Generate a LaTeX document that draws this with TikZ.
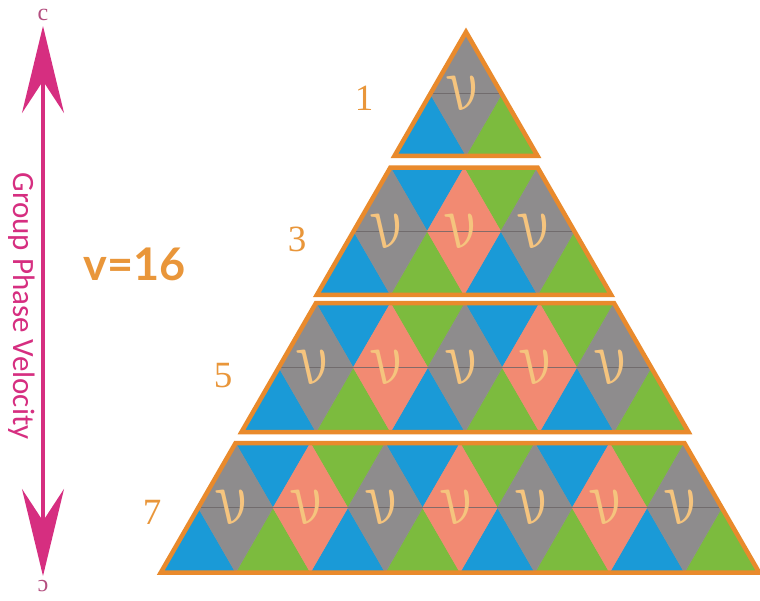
\documentclass[tikz,border=0pt]{standalone}
\usepackage{fontspec}
\setmainfont{Liberation Serif}
\newfontfamily\labsans{Lato}
\newfontfamily\calib{Carlito}
\usetikzlibrary{arrows.meta}
\definecolor{tblue}{HTML}{1A9AD7}
\definecolor{tgreen}{HTML}{7CBB3E}
\definecolor{tgray}{HTML}{8E8C8D}
\definecolor{tsalmon}{HTML}{F28A72}
\definecolor{torange}{HTML}{E98A2C}
\definecolor{tnum}{HTML}{E9963A}
\definecolor{tnu}{HTML}{F5C47E}
\definecolor{tmag}{HTML}{D62E80}
\definecolor{tmid}{HTML}{6A6466}
\tikzset{
  tri/.style={line width=0.4pt},
  midline/.style={draw=tmid, line width=1pt, opacity=0.8},
  outl/.style={draw=torange, line width=4.5pt, line join=miter},
  vnu/.style={text=tnu, inner sep=0pt, transform shape},
  numlab/.style={text=tnum, font=\fontsize{37}{40}\selectfont, anchor=base, inner sep=0pt},
  clab/.style={text=tmag!60!gray, font=\fontsize{24}{26}\selectfont, inner sep=0pt},
  magarrow/.style={draw=tmag, line width=4pt,
    {Stealth[length=87pt,width=42pt,inset=32pt]}-{Stealth[length=87pt,width=42pt,inset=32pt]}},
}
\newcommand{\drawband}[5]{%
  \pgfmathsetmacro{\hh}{#3*0.8660254}%
  \pgfmathsetmacro{\xl}{#1-#4*#3/2}%
  \pgfmathtruncatemacro{\nb}{#4+1}%
  \pgfmathtruncatemacro{\nt}{#4-1}%
  \begin{scope}
    \clip (\xl,#2) -- ({\xl+#4*#3},#2) -- ({\xl+#4*#3+#3},{#2+2*\hh}) -- ({\xl-#3},{#2+2*\hh}) -- cycle;
    \foreach \j in {0,...,\nb}{%
      \ifodd\j\relax\def\cc{tgreen}\else\def\cc{tblue}\fi
      \filldraw[tri, fill=\cc, draw=\cc] ({\xl-#3/2+\j*#3},{#2+\hh}) -- ++({-#3/2},\hh) -- ++(#3,0) -- cycle;
    }
    \ifnum#4>0
    \foreach \j in {0,...,\nt}{%
      \ifodd\j\relax\def\cc{tgreen}\else\def\cc{tblue}\fi
      \filldraw[tri, fill=\cc, draw=\cc] ({\xl+\j*#3},#2) -- ++(#3,0) -- ++({-#3/2},\hh) -- cycle;
    }
    \fi
    \foreach \j in {0,...,#4}{%
      \ifodd\j\relax\def\cc{tsalmon}\else\def\cc{tgray}\fi
      \filldraw[tri, fill=\cc, draw=\cc] ({\xl+\j*#3},#2) -- ++({-#3/2},\hh) -- ++({#3/2},\hh) -- ++({#3/2},-\hh) -- cycle;
    }
    \draw[midline] ({\xl-#3/2},{#2+\hh}) -- ({\xl+#4*#3+#3/2},{#2+\hh});
    \foreach \j in {0,...,#4}{%
      \begin{scope}[shift={({\xl+\j*#3},{#2+\hh})}, xslant=-0.42]
        \node[vnu] (#5v\j) at (0,0) {\scalebox{6.0}[7.8]{$\nu$}};
      \end{scope}
    }
  \end{scope}
  \draw[outl] (\xl,#2) -- ({\xl+#4*#3},#2) -- ({\xl+#4*#3+#3},{#2+2*\hh}) -- ({\xl-#3},{#2+2*\hh}) -- cycle;
}
\begin{document}
\begin{tikzpicture}[x=1pt,y=-1pt]
\useasboundingbox[fill=white] (0,0) rectangle (760,600);
% bands: cx, top y, side, top row index, name
\drawband{466}{32}{71.5}{0}{a}
\drawband{464}{167.5}{73.6}{2}{b}
\drawband{465}{303}{74.5}{4}{c}
\drawband{460}{443}{74.8}{6}{d}
% row numbers
\node[numlab] (n1) at (364,110) {1};
\node[numlab] (n3) at (297,251) {3};
\node[numlab] (n5) at (223,387) {5};
\node[numlab] (n7) at (152,524) {7};
% v=16
\node[text=tnum, font=\labsans\bfseries\fontsize{45}{48}\selectfont, anchor=base, inner sep=0pt] (vlab) at (135,280) {v=16};
% velocity arrow
\node[clab] (ctop) at (43,15) {c};
\node[clab, rotate=180] (cbot) at (43,586) {c};
\coordinate (atop) at (43,26);
\coordinate (abot) at (43,576);
\draw[magarrow] (atop) -- (abot);
\node[text=tmag, font=\calib\fontsize{31}{34}\selectfont, rotate=-90, anchor=base, inner sep=0pt] (gpv) at (13,306) {Group Phase Velocity};
\end{tikzpicture}
\end{document}
